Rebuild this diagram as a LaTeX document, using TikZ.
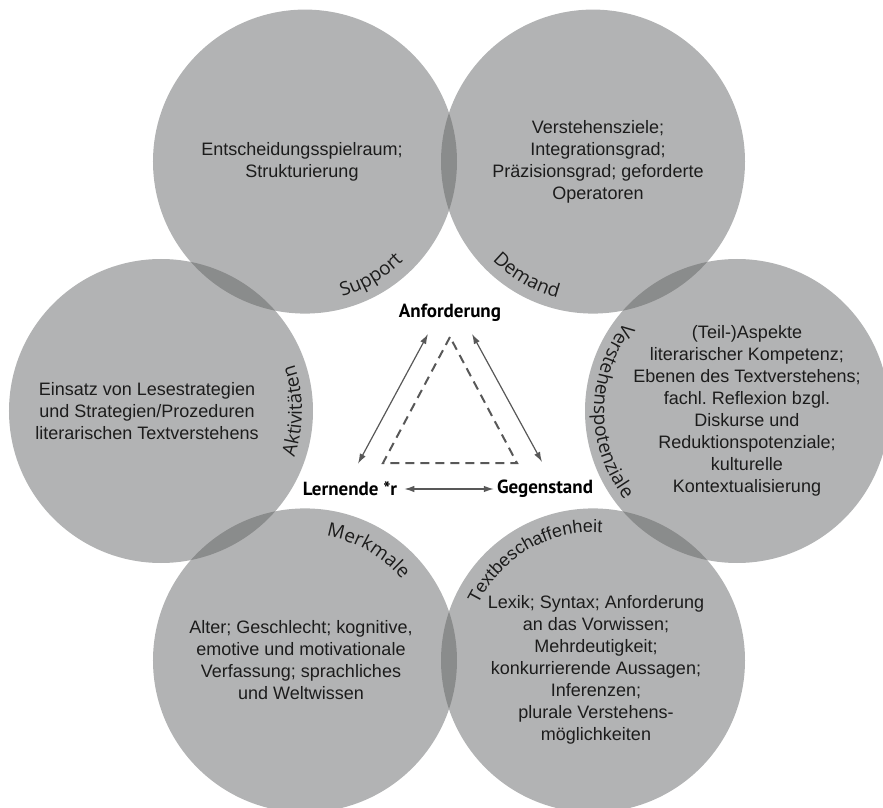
\documentclass[tikz,border=0pt]{standalone}
\usepackage{fontspec}
\setmainfont{Liberation Sans}
\newfontfamily\labelfont{PT Sans}
\newfontfamily\curvefont{Open Sans}
\usetikzlibrary{arrows.meta,decorations.text}

\definecolor{circlegray}{RGB}{95,97,98}
\definecolor{linegray}{RGB}{88,88,88}
\definecolor{textdark}{RGB}{28,28,28}
\protected\def\arclabel{\curvefont\fontsize{19}{19}\selectfont}
\protected\def\plainlabel{\fontsize{18}{18}\selectfont}
\frenchspacing

\begin{document}
\begin{tikzpicture}[x=1pt,y=1pt]
  \useasboundingbox (-449,-397) rectangle (434,411);

  \begin{scope}[circle style/.style={circle,
                                     minimum size=304pt,
                                     inner sep=0pt,
                                     outer sep=0pt,
                                     fill=circlegray,
                                     fill opacity=0.48}]
    \path \foreach \i in {0,...,5}{%
      (60*\i:288) node[circle style] (c\i) {}};
  \end{scope}

  \begin{scope}[body style/.style={align=center,
                                   text=textdark,
                                   font=\fontsize{18}{22}\selectfont}]
    \node[body style] (w0) at ([xshift=10pt]c0) {(Teil-)Aspekte\\literarischer Kompetenz;\\Ebenen des Textverstehens;\\fachl. Reflexion bzgl.\\Diskurse und\\Reduktionspotenziale;\\kulturelle\\Kontextualisierung};
    \node[body style] (w1) at ([xshift=5pt]c1) {Verstehensziele;\\Integrationsgrad;\\Präzisionsgrad; geforderte\\Operatoren};
    \node[body style] (w2) at ([xshift=-3pt]c2) {Entscheidungsspielraum;\\Strukturierung};
    \node[body style] (w3) at ([xshift=-14pt]c3) {Einsatz von Lesestrategien\\und Strategien/Prozeduren\\literarischen Textverstehens};
    \node[body style] (w4) at ([xshift=-4pt]c4) {Alter; Geschlecht; kognitive,\\emotive und motivationale\\Verfassung; sprachliches\\und Weltwissen};
    \node[body style] (w5) at ([shift={(3pt,-9pt)}]c5) {Lexik; Syntax; Anforderung\\an das Vorwissen;\\Mehrdeutigkeit;\\konkurrierende Aussagen;\\Inferenzen;\\plurale Verstehens-\\möglichkeiten};
  \end{scope}

  \foreach \i/\dirang/\dir/\rad/\fmt/\word in {0/180/1/143/\arclabel/Verstehenspotenziale,
                                               1/-120/1/141/\arclabel/Demand,
                                               2/-60/1/140/\arclabel/Support,
                                               3/0/1/141/\arclabel/Aktivitäten,
                                               4/60/-1/126/\arclabel/Merkmale,
                                               5/120/-1/128/\plainlabel/Textbeschaffenheit}{%
    \pgfmathsetmacro{\startang}{\dirang-\dir*60}
    \pgfmathsetmacro{\stopang}{\dirang+\dir*60}
    \path[decorate, decoration/.expanded={text along path,
          text align=center, text color=textdark,
          text={|\fmt|\word}}]
      ([shift={(\startang:\rad)}]c\i.center) arc[start angle=\startang, end angle=\stopang, radius=\rad];
  }

  \begin{scope}[corner style/.style={font=\labelfont\bfseries\fontsize{19}{19}\selectfont,
                                     inner sep=0pt}]
    \node[corner style] (anf) at (1,98) {Anforderung};
    \node[corner style] (lern) at (-99,-78) {Lernende *r};
    \node[corner style] (gegen) at (96,-78) {Gegenstand};
  \end{scope}

  \draw[draw=linegray, line width=2pt, dash pattern=on 9pt off 6pt]
    (1,74) -- (-66,-52) -- (68,-52) -- cycle;

  \begin{scope}[arrow style/.style={draw=linegray,
                                    line width=1.2pt,
                                    >={Latex[length=10pt,width=6.5pt]},
                                    <->}]
    \draw[arrow style] ([shift={(8pt,18pt)}]lern.north) -- ([shift={(-22pt,-12pt)}]anf.south);
    \draw[arrow style] ([shift={(22pt,-12pt)}]anf.south) -- ([shift={(-3pt,18pt)}]gegen.north);
    \draw[arrow style] ([xshift=7pt]lern.east) -- ([xshift=-3pt]gegen.west);
  \end{scope}
\end{tikzpicture}
\end{document}
